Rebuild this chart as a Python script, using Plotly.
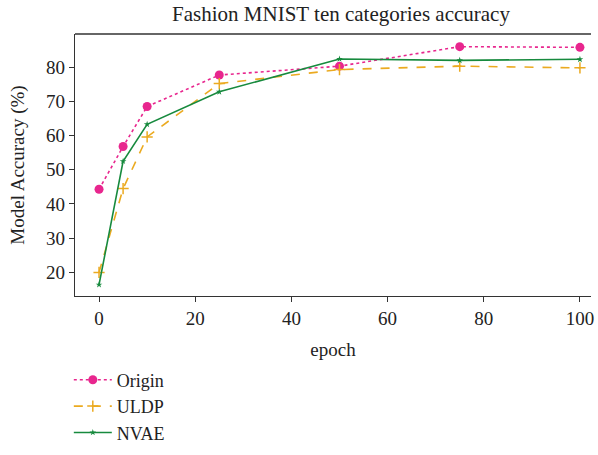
import plotly.graph_objects as go

# Training epochs at which accuracy was evaluated
epochs = [0, 5, 10, 25, 50, 75, 100]

# Test accuracy (%) per method
origin_acc = [44.3, 56.8, 68.5, 77.7, 80.3, 86.0, 85.8]
uldp_acc = [20.0, 44.5, 59.6, 75.2, 79.3, 80.3, 79.8]
nvae_acc = [16.4, 52.5, 63.3, 72.8, 82.4, 82.0, 82.3]

x_ticks = [0, 20, 40, 60, 80, 100]
y_ticks = [20, 30, 40, 50, 60, 70, 80]

PINK = "#E8268E"
ORANGE = "#EBAA20"
GREEN = "#178A3E"
FONT = "Liberation Serif"
INK = "#222222"
SPINE = "#333333"

fig = go.Figure()
fig.add_trace(go.Scatter(
    x=epochs, y=origin_acc, name="Origin", mode="lines+markers",
    line=dict(color=PINK, width=1.6, dash="dot"),
    marker=dict(symbol="circle", size=9, color=PINK),
))
fig.add_trace(go.Scatter(
    x=epochs, y=uldp_acc, name="ULDP", mode="lines+markers",
    line=dict(color=ORANGE, width=1.6, dash="dash"),
    marker=dict(symbol="cross-thin", size=8, color=ORANGE,
                line=dict(color=ORANGE, width=1.5)),
))
fig.add_trace(go.Scatter(
    x=epochs, y=nvae_acc, name="NVAE", mode="lines+markers",
    line=dict(color=GREEN, width=1.6),
    marker=dict(symbol="star", size=5, color=GREEN),
))

fig.update_layout(
    width=598, height=455,
    margin=dict(l=75, r=4, t=34, b=158),
    paper_bgcolor="white", plot_bgcolor="white",
    font=dict(family=FONT, size=19, color=INK),
    title=dict(text="Fashion MNIST ten categories accuracy",
               x=341 / 598, xanchor="center", y=1 - 14 / 455, yanchor="middle",
               font=dict(family=FONT, size=21, color=INK)),
    showlegend=True,
    legend=dict(orientation="v", x=-0.012, xanchor="left", y=-0.25, yanchor="top",
                bgcolor="rgba(0,0,0,0)", font=dict(family=FONT, size=18, color=INK),
                tracegroupgap=0, itemwidth=38),
    # top frame line of the axes box
    shapes=[dict(type="line", xref="paper", yref="paper", x0=0, x1=1, y0=1, y1=1,
                 line=dict(color=SPINE, width=1.3))],
)

fig.update_xaxes(
    range=[-5, 102.3], tickvals=x_ticks, ticktext=[str(v) for v in x_ticks],
    showgrid=False, zeroline=False,
    showline=True, linecolor=SPINE, linewidth=1.3, mirror=False,
    ticks="outside", ticklen=5, tickcolor=SPINE, tickwidth=1,
    tickfont=dict(family=FONT, size=19, color=INK),
    title=dict(text="epoch", standoff=14, font=dict(family=FONT, size=19, color=INK)),
)
fig.update_yaxes(
    range=[13.1, 89.7], tickvals=y_ticks, ticktext=[str(v) for v in y_ticks],
    showgrid=False, zeroline=False,
    showline=True, linecolor=SPINE, linewidth=1.3, mirror=False,
    ticks="outside", ticklen=5, tickcolor=SPINE, tickwidth=1,
    tickfont=dict(family=FONT, size=19, color=INK),
    title=dict(text="Model Accuracy (%)", standoff=16,
               font=dict(family=FONT, size=19, color=INK)),
)

fig.write_html("out.html")
